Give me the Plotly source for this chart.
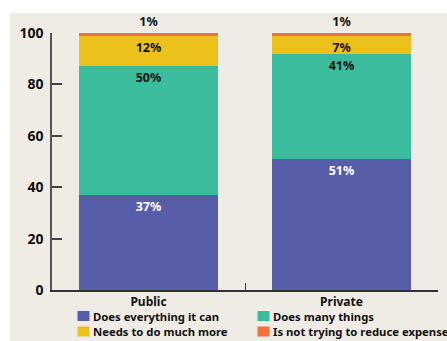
import plotly.graph_objects as go

categories = ["Public", "Private"]
series_names = ["Does everything it can", "Does many things",
                "Needs to do much more", "Is not trying to reduce expenses"]
does_everything = [37, 51]
does_many = [50, 41]
needs_more = [12, 7]
not_trying = [1, 1]
series_values = [does_everything, does_many, needs_more, not_trying]
colors = ["#585DA9", "#3BBC9C", "#EDC11B", "#F3703B"]
text_colors = ["#FFFFFF", "#111111", "#111111", "#111111"]
y_ticks = [0, 20, 40, 60, 80, 100]

FONT = "Noto Sans"
W, H = 447, 341
ML, MR, MT, MB = 52, 9, 33, 51
PW, PH = W - ML - MR, H - MT - MB


def px_x(p):
    return (p - ML) / PW


def px_y(p):
    return (H - MB - p) / PH


fig = go.Figure()
for i, (name, vals) in enumerate(zip(series_names, series_values)):
    top = i == len(series_names) - 1
    fig.add_trace(go.Bar(
        x=categories, y=vals, name=name,
        marker=dict(color=colors[i], line=dict(width=0)),
        text=[f"{v}%" for v in vals],
        textposition="outside" if top else "inside",
        insidetextanchor="end",
        textangle=0,
        constraintext="none",
        cliponaxis=False,
        textfont=dict(family=FONT, size=12.5, color=text_colors[i], weight="bold"),
        showlegend=False,
    ))

shapes = [dict(type="rect", xref="paper", yref="paper", layer="below",
               x0=px_x(10), x1=px_x(W + 5), y0=px_y(H + 5), y1=px_y(12.7),
               fillcolor="#EFECE6", line=dict(width=0))]
annotations = []
legend_pos = [(77.5, 316), (257.5, 316), (77.5, 331.5), (257.5, 331.5)]
for i, name in enumerate(series_names):
    lx, ly = legend_pos[i]
    shapes.append(dict(type="rect", xref="paper", yref="paper",
                       x0=px_x(lx), x1=px_x(lx + 12), y0=px_y(ly + 5), y1=px_y(ly - 5),
                       fillcolor=colors[i], line=dict(width=0)))
    annotations.append(dict(xref="paper", yref="paper", x=px_x(lx + 13), y=px_y(ly),
                            xanchor="left", yanchor="middle", showarrow=False, text=name,
                            font=dict(family=FONT, size=11.3, color="#111111", weight="bold")))

fig.update_layout(
    width=W, height=H,
    margin=dict(l=ML, r=MR, t=MT, b=MB),
    barmode="stack", bargap=0.276,
    paper_bgcolor="#FFFFFF", plot_bgcolor="rgba(0,0,0,0)",
    uniformtext=dict(minsize=12, mode="show"),
    shapes=shapes, annotations=annotations,
    showlegend=False,
)
fig.update_xaxes(
    range=[-0.5, 1.5], tickson="boundaries", ticks="inside", ticklen=7,
    tickcolor="#444444", tickwidth=1.2,
    showline=True, linecolor="#333333", linewidth=1.5,
    tickfont=dict(family=FONT, size=12, color="#111111", weight="bold"),
    showgrid=False, zeroline=False,
)
fig.update_yaxes(
    range=[0, 100], tickvals=y_ticks, ticks="inside", ticklen=10,
    tickcolor="#444444", tickwidth=1.5,
    showline=True, linecolor="#555555", linewidth=1.5,
    tickfont=dict(family=FONT, size=14, color="#111111", weight="bold"),
    ticklabelstandoff=4,
    showgrid=False, zeroline=False,
)

fig.write_html("out.html")
